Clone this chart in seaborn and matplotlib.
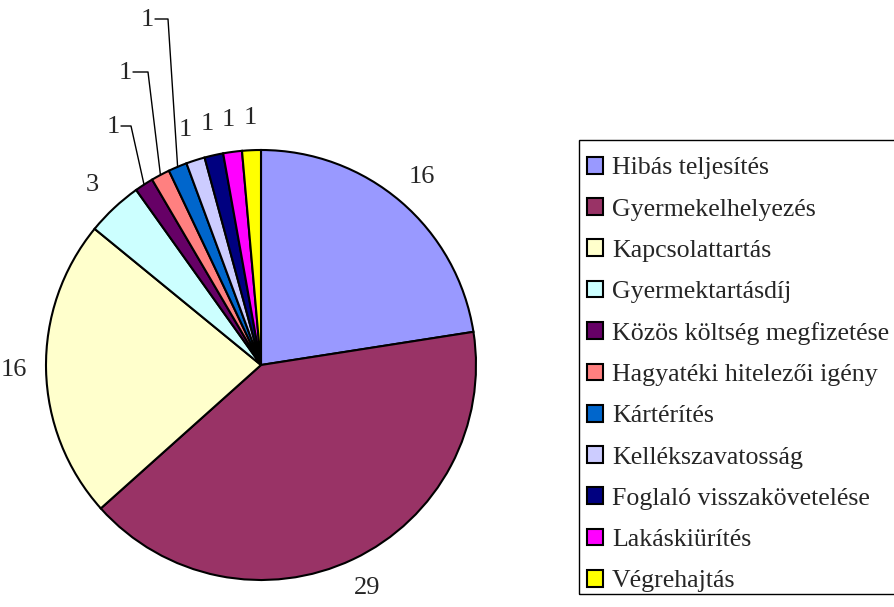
import numpy as np
import matplotlib
matplotlib.use("Agg")
import matplotlib.pyplot as plt
import seaborn as sns
from matplotlib.patches import Patch, Rectangle

# Data
categories = ['Hibás teljesítés', 'Gyermekelhelyezés', 'Kapcsolattartás', 'Gyermektartásdíj',
              'Közös költség megfizetése', 'Hagyatéki hitelezői igény', 'Kártérítés',
              'Kellékszavatosság', 'Foglaló visszakövetelése', 'Lakáskiürítés', 'Végrehajtás']
values = [16, 29, 16, 3, 1, 1, 1, 1, 1, 1, 1]
colors = ['#9999FF', '#993366', '#FFFFCC', '#CCFFFF', '#660066', '#FF8080',
          '#0066CC', '#CCCCFF', '#000080', '#FF00FF', '#FFFF00']

sns.set_theme(style='white')
plt.rcParams['font.family'] = ['Liberation Serif', 'DejaVu Serif']
palette = sns.color_palette(colors)

W, H = 895, 607
fig = plt.figure(figsize=(W / 100, H / 100), dpi=100)
ax = fig.add_axes([0, 0, 1, 1])

cx, cy, R = 261, H - 365, 215
wedges, _ = ax.pie(values, colors=palette, startangle=90, counterclock=False,
                   center=(cx, cy), radius=R, frame=True,
                   wedgeprops=dict(edgecolor='black', linewidth=1.5))
ax.set_xlim(0, W)
ax.set_ylim(0, H)
ax.axis('off')

# labels; some small slices get leader lines
leader = {6: (147, 20, 168), 5: (125, 73, 148), 4: (113, 127, 131)}
for i, w in enumerate(wedges):
    mid = np.deg2rad((w.theta1 + w.theta2) / 2)
    if i in leader:
        tx, ty, kx = leader[i]
        ty = H - ty
        ex, ey = cx + R * np.cos(mid), cy + R * np.sin(mid)
        ax.plot([tx + 8, kx, ex], [ty + 1, ty + 1, ey], color='black', lw=1)
        ax.text(tx, ty, str(values[i]), ha='center', va='center', fontsize=19)
    else:
        r = 247
        ax.text(cx + r * np.cos(mid), cy + r * np.sin(mid), str(values[i]),
                ha='center', va='center', fontsize=19)

# legend box drawn by hand, it runs past the right edge like the original
ax.add_patch(Rectangle((579, H - 594), 330, 454, facecolor='none', edgecolor='black',
                       linewidth=1, clip_on=False))

handles = [Patch(facecolor=palette[i], edgecolor='black', linewidth=1.5) for i in range(len(categories))]
leg = fig.legend(handles, categories, loc='upper left', bbox_to_anchor=(587 / W, 1 - 157 / H),
                 fontsize=18.6, frameon=False,
                 handlelength=0.62, handleheight=0.62, handletextpad=0.35,
                 labelspacing=0.727, borderpad=0, borderaxespad=0)

fig.savefig('out.png', dpi=100, facecolor='white')
